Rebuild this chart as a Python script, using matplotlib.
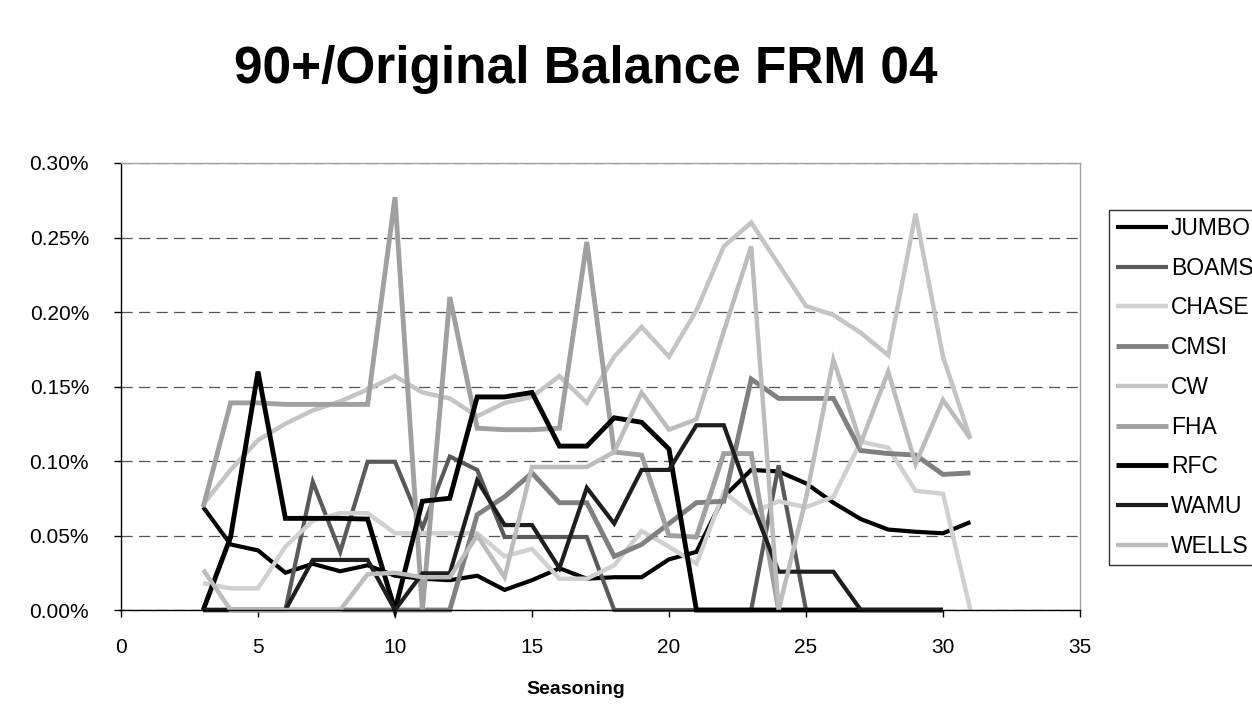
import numpy as np
import matplotlib
matplotlib.use("Agg")
import matplotlib.pyplot as plt
from matplotlib.ticker import FuncFormatter

plt.rcParams['font.family'] = ['Liberation Sans', 'DejaVu Sans']

nan = np.nan
seasoning = list(range(3, 32))

jumbo = [0.069, 0.044, 0.040, 0.025, 0.031, 0.026, 0.030, 0.023, 0.021, 0.020,
         0.023, 0.0135, 0.020, 0.028, 0.021, 0.022, 0.022, 0.034, 0.039, 0.076,
         0.094, 0.093, 0.085, 0.072, 0.061, 0.054, 0.0525, 0.0515, 0.059]
boams = [0, 0, 0, 0, 0.086, 0.039, 0.0995, 0.0995, 0.055, 0.103,
         0.094, 0.049, 0.049, 0.049, 0.049, 0, 0, 0, 0, 0,
         0, 0.097, 0, nan, nan, nan, nan, nan, nan]
chase = [0.018, 0.0145, 0.0145, 0.0425, 0.060, 0.065, 0.065, 0.0515, 0.0515, 0.0515,
         0.0515, 0.036, 0.041, 0.021, 0.021, 0.030, 0.053, 0.0425, 0.031, 0.079,
         0.065, 0.073, 0.069, 0.076, 0.113, 0.109, 0.080, 0.078, 0]
cmsi = [0, 0, 0, 0, 0, 0, 0, 0, 0, 0,
        0.064, 0.076, 0.092, 0.072, 0.072, 0.036, 0.044, 0.058, 0.072, 0.073,
        0.155, 0.142, 0.142, 0.142, 0.107, 0.105, 0.104, 0.091, 0.092]
cw = [0.071, 0.094, 0.114, 0.125, 0.134, 0.140, 0.148, 0.157, 0.146, 0.142,
      0.130, 0.139, 0.143, 0.157, 0.139, 0.170, 0.190, 0.170, 0.201, 0.244,
      0.260, 0.232, 0.204, 0.198, 0.186, 0.171, 0.266, 0.170, 0.115]
fha = [0.069, 0.139, 0.139, 0.138, 0.138, 0.138, 0.138, 0.277, 0, 0.210,
       0.122, 0.121, 0.121, 0.122, 0.247, 0.106, 0.104, 0.050, 0.049, 0.105,
       0.105, 0, nan, nan, nan, nan, nan, nan, nan]
rfc = [0, 0.049, 0.160, 0.0615, 0.0615, 0.0615, 0.061, 0, 0.073, 0.075,
       0.143, 0.143, 0.146, 0.110, 0.110, 0.129, 0.126, 0.108, 0, 0,
       0, 0, 0, 0, 0, 0, 0, 0, nan]
wamu = [0, 0, 0, 0, 0.0336, 0.0336, 0.0336, 0, 0.0246, 0.0246,
        0.087, 0.057, 0.057, 0.028, 0.082, 0.058, 0.094, 0.094, 0.124, 0.124,
        0.073, 0.0257, 0.0257, 0.0257, 0, 0, 0, 0, nan]
wells = [0.027, 0, 0, 0, 0, 0, 0.024, 0.025, 0.022, 0.022,
         0.050, 0.022, 0.096, 0.096, 0.096, 0.106, 0.146, 0.121, 0.128, 0.187,
         0.244, 0, 0.075, 0.168, 0.112, 0.160, 0.098, 0.141, 0.115]

names = ["JUMBO", "BOAMS", "CHASE", "CMSI", "CW", "FHA", "RFC", "WAMU", "WELLS"]
series = [jumbo, boams, chase, cmsi, cw, fha, rfc, wamu, wells]
colors = ["#000000", "#5a5a5a", "#d0d0d0", "#808080", "#c4c4c4", "#a0a0a0",
          "#000000", "#1e1e1e", "#bcbcbc"]
widths = [3.0, 3.0, 3.2, 3.5, 3.2, 3.5, 3.5, 3.0, 3.2]

fig = plt.figure(figsize=(12.52, 7.27), dpi=100)
ax = fig.add_axes([121/1252, 1-610/727, (1080-121)/1252, (610-163)/727])

for name, vals, c, w in zip(names, series, colors, widths):
    ax.plot(seasoning, vals, color=c, lw=w, label=name, solid_joinstyle='miter',
            solid_capstyle='butt', clip_on=False)

ax.set_xlim(0, 35)
ax.set_ylim(0, 0.30)
ax.set_xticks(range(0, 36, 5))
ax.set_yticks(np.arange(0, 0.301, 0.05))
ax.yaxis.set_major_formatter(FuncFormatter(lambda v, p: f"{v:.2f}%"))
ax.yaxis.grid(True, color="#555555", lw=0.9, dashes=(9, 5))
ax.set_axisbelow(True)

ax.tick_params(axis='both', direction='out', length=5, width=1, labelsize=15,
               colors='black')
ax.tick_params(axis='y', pad=18)
ax.tick_params(axis='x', pad=15)

for s in ['left', 'bottom']:
    ax.spines[s].set_color('black')
    ax.spines[s].set_linewidth(1)
for s in ['top', 'right']:
    ax.spines[s].set_color('#a0a0a0')
    ax.spines[s].set_linewidth(1)

fig.text(586/1252, 1-69/727, "90+/Original Balance FRM 04", ha='center', va='center',
         fontsize=37, fontweight='bold')
fig.text(576/1252, 1-690/727, "Seasoning", ha='center', va='center',
         fontsize=14, fontweight='bold')

leg = fig.legend(loc='upper left', bbox_to_anchor=(1109/1252, 1-210/727),
                 bbox_transform=fig.transFigure, borderaxespad=0,
                 fontsize=16.5, frameon=True, fancybox=False, handlelength=2.27,
                 handletextpad=0.12, labelspacing=0.73, borderpad=0.3)
leg.get_frame().set_edgecolor('black')
leg.get_frame().set_linewidth(1)

fig.savefig("out.png", dpi=100)
